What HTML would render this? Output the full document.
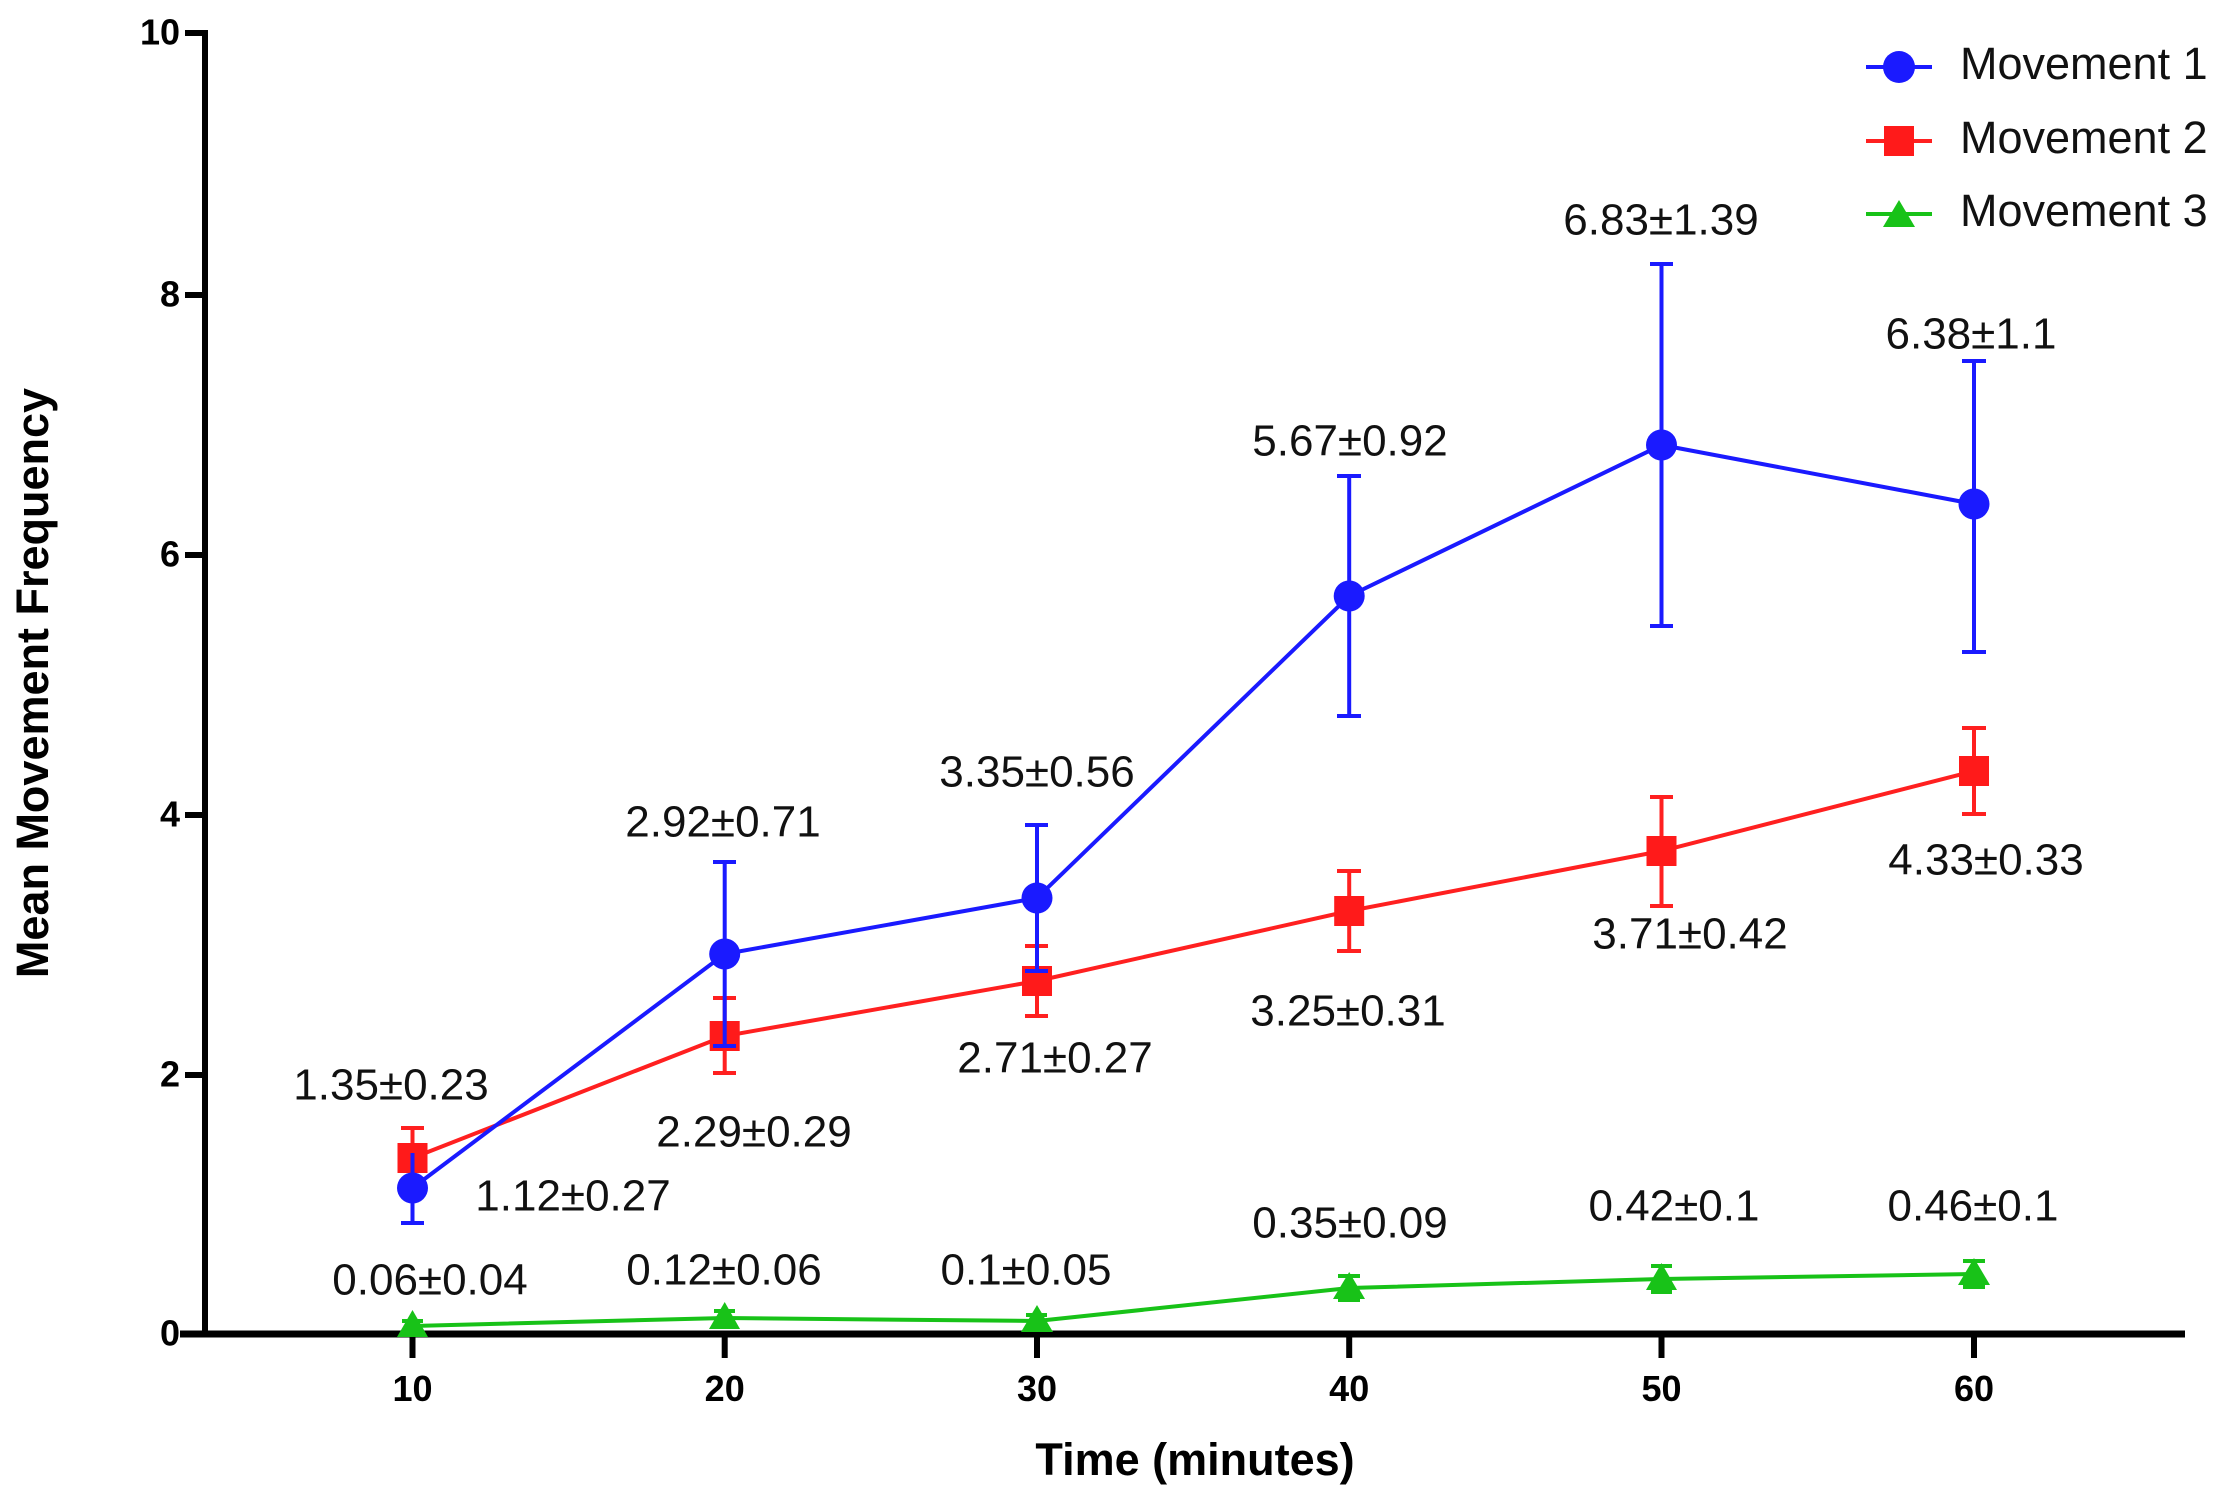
<!DOCTYPE html>
<html><head><meta charset="utf-8"><style>body{margin:0;background:#fff}svg{display:block}</style></head>
<body>
<svg width="2226" height="1502" viewBox="0 0 2226 1502" xmlns="http://www.w3.org/2000/svg" font-family="Liberation Sans, Arial, sans-serif">
<rect width="2226" height="1502" fill="#fff"/>
<!-- axes -->
<line x1="205" y1="30" x2="205" y2="1337" stroke="#000" stroke-width="6"/>
<line x1="180" y1="1334" x2="2185" y2="1334" stroke="#000" stroke-width="7"/>
<g stroke="#000" stroke-width="6">
<line x1="185" y1="33" x2="208" y2="33"/>
<line x1="185" y1="295" x2="208" y2="295"/>
<line x1="185" y1="555" x2="208" y2="555"/>
<line x1="185" y1="815" x2="208" y2="815"/>
<line x1="185" y1="1075" x2="208" y2="1075"/>
<line x1="412.5" y1="1334" x2="412.5" y2="1358"/>
<line x1="724.7" y1="1334" x2="724.7" y2="1358"/>
<line x1="1037" y1="1334" x2="1037" y2="1358"/>
<line x1="1349.2" y1="1334" x2="1349.2" y2="1358"/>
<line x1="1661.5" y1="1334" x2="1661.5" y2="1358"/>
<line x1="1974" y1="1334" x2="1974" y2="1358"/>
</g>
<g font-size="36" font-weight="bold" text-anchor="end" dominant-baseline="middle">
<text x="180" y="35">10</text><text x="180" y="297">8</text><text x="180" y="557">6</text>
<text x="180" y="817">4</text><text x="180" y="1077">2</text><text x="180" y="1336">0</text>
</g>
<g font-size="36" font-weight="bold" text-anchor="middle">
<text x="412.5" y="1401">10</text><text x="724.7" y="1401">20</text><text x="1037" y="1401">30</text>
<text x="1349.2" y="1401">40</text><text x="1661.5" y="1401">50</text><text x="1974" y="1401">60</text>
</g>
<text x="1195" y="1475" font-size="45" font-weight="bold" text-anchor="middle">Time (minutes)</text>
<text transform="translate(48,683) rotate(-90)" font-size="45" font-weight="bold" text-anchor="middle">Mean Movement Frequency</text>

<!-- green -->
<g stroke="#18c218" stroke-width="4" fill="none">
<polyline points="412.5,1326 724.7,1318 1037,1321 1349.2,1288 1661.5,1279 1974,1274"/>
<path d="M402,1321h21M402,1331h21M714,1311h21M714,1326h21M1026,1315h21M1026,1328h21M1338,1276h22M1338,1300h22M1651,1266h21M1651,1292h21M1963,1261h22M1963,1287h22M412.5,1321v10M724.7,1311v15M1037,1315v13M1349,1276v24M1661.5,1266v26M1974,1261v26"/>
</g>
<g fill="#18c218">
<polygon points="412.5,1310 397,1337 428,1337"/><polygon points="724.7,1302 709,1329 740,1329"/>
<polygon points="1037,1305 1021,1332 1053,1332"/><polygon points="1349.2,1272 1333,1299 1365,1299"/>
<polygon points="1661.5,1263 1646,1290 1677,1290"/><polygon points="1974,1258 1958,1285 1990,1285"/>
</g>

<!-- red -->
<g stroke="#ff2020" stroke-width="4" fill="none">
<polyline points="412.5,1158 724.7,1036 1037,981 1349.2,911 1661.5,851 1974,771"/>
<path d="M412.5,1128v60M724.7,998v75M1037,946v70M1349.2,871v80M1661.5,797v109M1974,728v86M401,1128h23M401,1188h23M713,998h23M713,1073h23M1025,946h23M1025,1016h23M1337,871h24M1337,951h24M1650,797h23M1650,906h23M1962,728h24M1962,814h24"/>
</g>
<g fill="#ff1a1a">
<rect x="397.5" y="1143" width="30" height="30"/><rect x="709.7" y="1021" width="30" height="30"/>
<rect x="1022" y="966" width="30" height="30"/><rect x="1334.2" y="896" width="30" height="30"/>
<rect x="1646.5" y="836" width="30" height="30"/><rect x="1959" y="756" width="30" height="30"/>
</g>

<!-- blue -->
<g stroke="#1a1aff" stroke-width="4" fill="none">
<polyline points="412.5,1188 724.7,954 1037,898 1349.2,596 1661.5,445 1974,504"/>
<path d="M412.5,1153v70M724.7,862v184M1037,825v146M1349.2,476v240M1661.5,264v362M1974,361v143M1974,504v148M401,1223h23M713,862h23M713,1046h23M1025,825h23M1025,971h23M1337,476h24M1337,716h24M1650,264h23M1650,626h23M1962,361h24M1962,652h24"/>
</g>
<g fill="#1a1aff">
<circle cx="412.5" cy="1188" r="15.5"/><circle cx="724.7" cy="954" r="15.5"/>
<circle cx="1037" cy="898" r="15.5"/><circle cx="1349.2" cy="596" r="15.5"/>
<circle cx="1661.5" cy="445" r="15.5"/><circle cx="1974" cy="504" r="15.5"/>
</g>

<!-- labels -->
<g font-size="44" text-anchor="middle" dominant-baseline="middle" fill="#111">
<text x="391" y="1088">1.35±0.23</text>
<text x="573" y="1199">1.12±0.27</text>
<text x="723" y="825">2.92±0.71</text>
<text x="754" y="1135">2.29±0.29</text>
<text x="1037" y="775">3.35±0.56</text>
<text x="1055" y="1061">2.71±0.27</text>
<text x="1350" y="444">5.67±0.92</text>
<text x="1348" y="1014">3.25±0.31</text>
<text x="1661" y="223">6.83±1.39</text>
<text x="1690" y="937">3.71±0.42</text>
<text x="1971" y="337">6.38±1.1</text>
<text x="1986" y="863">4.33±0.33</text>
<text x="430" y="1283">0.06±0.04</text>
<text x="724" y="1273">0.12±0.06</text>
<text x="1026" y="1273">0.1±0.05</text>
<text x="1350" y="1226">0.35±0.09</text>
<text x="1674" y="1209">0.42±0.1</text>
<text x="1973" y="1209">0.46±0.1</text>
</g>

<!-- legend -->
<g stroke-width="4">
<line x1="1866" y1="67" x2="1932" y2="67" stroke="#1a1aff"/>
<line x1="1866" y1="141" x2="1932" y2="141" stroke="#ff2020"/>
<line x1="1866" y1="214" x2="1932" y2="214" stroke="#18c218"/>
</g>
<circle cx="1899" cy="67" r="16" fill="#1a1aff"/>
<rect x="1884" y="126" width="30" height="30" fill="#ff1a1a"/>
<polygon points="1899,200 1883,227 1915,227" fill="#18c218"/>
<g font-size="45" dominant-baseline="middle" fill="#111">
<text x="1960" y="67">Movement 1</text>
<text x="1960" y="141">Movement 2</text>
<text x="1960" y="214">Movement 3</text>
</g>
</svg>
</body></html>
